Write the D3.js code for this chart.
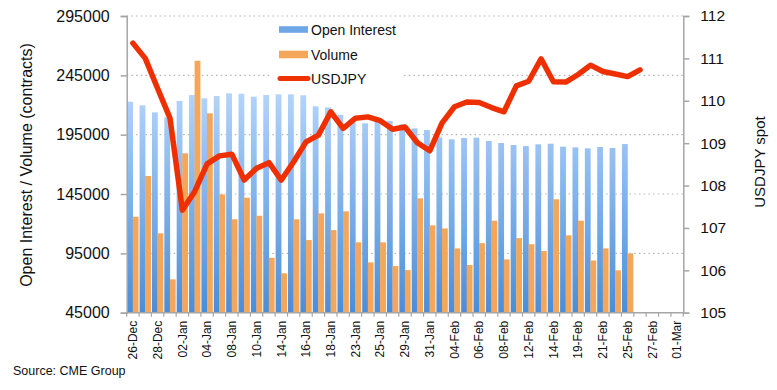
<!DOCTYPE html>
<html><head><meta charset="utf-8">
<script src="https://cdn.jsdelivr.net/npm/d3@7"></script>
<style>
body{margin:0;background:#fff;}
svg{display:block;font-family:"Liberation Sans",Arial,sans-serif;}
</style></head>
<body><svg id="c" width="777" height="390"></svg>
<script>
const categories = ["26-Dec","27-Dec","28-Dec","31-Dec","02-Jan","03-Jan","04-Jan","07-Jan","08-Jan","09-Jan","10-Jan","11-Jan","14-Jan","15-Jan","16-Jan","17-Jan","18-Jan","22-Jan","23-Jan","24-Jan","25-Jan","28-Jan","29-Jan","30-Jan","31-Jan","01-Feb","04-Feb","05-Feb","06-Feb","07-Feb","08-Feb","11-Feb","12-Feb","13-Feb","14-Feb","15-Feb","19-Feb","20-Feb","21-Feb","22-Feb","25-Feb","26-Feb","27-Feb","28-Feb","01-Mar"];
const openInterest = [222800,219700,213800,209600,223400,228400,225600,227600,229800,229500,227000,228400,229000,229000,228200,218900,218000,211800,207300,204600,206500,206500,203700,200300,198900,192700,191100,192200,192500,189700,188000,186300,185400,186900,187400,184900,184300,183500,184600,183800,187100];
const volume = [125900,160200,111900,73100,179300,257300,213000,144700,123700,141900,126700,91300,78200,123700,106200,128700,114600,130400,104300,87400,104300,84300,80900,141300,118600,116000,99200,85200,103600,122500,89900,107800,102700,96900,140600,110200,122500,89000,99200,80700,95000];
const usdjpy = [111.36,111.0,110.29,109.59,107.42,107.86,108.51,108.70,108.74,108.13,108.41,108.54,108.13,108.56,109.03,109.19,109.74,109.35,109.59,109.62,109.53,109.33,109.38,109.01,108.82,109.48,109.86,109.97,109.96,109.84,109.74,110.35,110.46,110.99,110.45,110.44,110.62,110.84,110.69,110.63,110.57,110.73];
const leftTicks = [45000,95000,145000,195000,245000,295000];
const rightTicks = [105,106,107,108,109,110,111,112];

const svg = d3.select("#c");
const L = 126.7, R = 683.3, T = 16, B = 312.7;
const x = d3.scaleBand().domain(categories).range([L, R]).padding(0);
const yL = d3.scaleLinear().domain([45000, 295000]).range([B, T]);
const yR = d3.scaleLinear().domain([105, 112]).range([B, T]);
const bw = x.bandwidth();

const defs = svg.append("defs");
const g1 = defs.append("linearGradient").attr("id","gBlue").attr("x1",0).attr("y1",0).attr("x2",0).attr("y2",1).attr("gradientUnits","userSpaceOnUse")
  .attr("x1",0).attr("x2",0).attr("y1",T+80).attr("y2",B);
g1.append("stop").attr("offset",0).attr("stop-color","#b2d3fa");
g1.append("stop").attr("offset",1).attr("stop-color","#4a8dd8");

// gridlines
svg.append("g").selectAll("line").data(leftTicks.filter(d=>d>45000)).join("line")
  .attr("x1",L).attr("x2",R).attr("y1",d=>yL(d)).attr("y2",d=>yL(d))
  .attr("stroke","#b5b5b5").attr("stroke-width",1.2).attr("stroke-dasharray","1.5,3.2");

// bars
const barData = openInterest.map((v,i)=>({c:categories[i],oi:v,vol:volume[i]}));
svg.append("g").selectAll("rect").data(barData).join("rect")
  .attr("x",d=>x(d.c)+0.5).attr("width",bw*0.47)
  .attr("y",d=>yL(d.oi)).attr("height",d=>B-yL(d.oi))
  .attr("fill","url(#gBlue)");
svg.append("g").selectAll("rect").data(barData).join("rect")
  .attr("x",d=>x(d.c)+bw*0.49).attr("width",bw*0.47)
  .attr("y",d=>yL(d.vol)).attr("height",d=>B-yL(d.vol))
  .attr("fill","#f4a65a");

// legend background
const lg = svg.append("g");
lg.append("rect").attr("x",272).attr("y",20).attr("width",132).attr("height",70).attr("fill","#fff");
const legItems = [{n:"Open Interest",t:"blue",y:29.5},{n:"Volume",t:"orange",y:54.5},{n:"USDJPY",t:"line",y:78.5}];
legItems.forEach(it=>{
  if(it.t==="blue") lg.append("rect").attr("x",279).attr("y",it.y-3.3).attr("width",29).attr("height",6.6).attr("fill","#6ea7e8");
  if(it.t==="orange") lg.append("rect").attr("x",279).attr("y",it.y-3.8).attr("width",29).attr("height",7.6).attr("fill","#f4a65a");
  if(it.t==="line") lg.append("line").attr("x1",280).attr("x2",308).attr("y1",it.y).attr("y2",it.y).attr("stroke","#ee3300").attr("stroke-width",5).attr("stroke-linecap","round");
  lg.append("text").attr("x",311).attr("y",it.y).attr("dy","0.36em").attr("font-size",14).attr("fill","#111").text(it.n);
});

// line
const line = d3.line().x((d,i)=>x(categories[i])+bw/2).y(d=>yR(d));
svg.append("path").datum(usdjpy).attr("d",line).attr("fill","none")
  .attr("stroke","#ee3000").attr("stroke-width",5.5).attr("stroke-linejoin","round").attr("stroke-linecap","round");

// axes
const axColor = "#a6a6a6";
const leftAxis = svg.append("g").attr("transform",`translate(${L},0)`)
  .call(d3.axisLeft(yL).tickValues(leftTicks).tickFormat(d3.format("d")).tickSize(6).tickPadding(11));
leftAxis.selectAll("text").attr("font-size",16).attr("fill","#111").attr("font-family","Liberation Sans, Arial, sans-serif");
leftAxis.selectAll("line,path").attr("stroke",axColor).attr("stroke-width",1.5);

const rightAxis = svg.append("g").attr("transform",`translate(${R},0)`)
  .call(d3.axisRight(yR).tickValues(rightTicks).tickFormat(d3.format("d")).tickSize(6).tickPadding(11));
rightAxis.selectAll("text").attr("font-size",15.5).attr("fill","#111").attr("font-family","Liberation Sans, Arial, sans-serif");
rightAxis.selectAll("line,path").attr("stroke",axColor).attr("stroke-width",1.5);

const bottom = svg.append("g").attr("transform",`translate(0,${B})`);
bottom.append("line").attr("x1",L).attr("x2",R).attr("stroke",axColor).attr("stroke-width",1.5);
const bounds = categories.map(c=>x(c)).concat([R]);
bottom.selectAll("line.t").data(bounds).join("line").attr("class","t")
  .attr("x1",d=>d).attr("x2",d=>d).attr("y1",0).attr("y2",4).attr("stroke",axColor).attr("stroke-width",1.2);
bottom.selectAll("text").data(categories.filter((c,i)=>i%2===0)).join("text")
  .attr("transform",d=>`translate(${x(d)+bw/2},8) rotate(-90)`)
  .attr("text-anchor","end").attr("dy","0.35em").attr("font-size",12).attr("fill","#111").text(d=>d);

// titles
svg.append("text").attr("transform","translate(26,165) rotate(-90)").attr("text-anchor","middle").attr("dy","0.35em")
  .attr("font-size",16).attr("fill","#111").text("Open Interest / Volume (contracts)");
svg.append("text").attr("transform","translate(760,162) rotate(-90)").attr("text-anchor","middle").attr("dy","0.35em")
  .attr("font-size",15).attr("fill","#111").text("USDJPY spot");
svg.append("text").attr("x",13).attr("y",371).attr("dy","0.35em").attr("font-size",12.5).attr("fill","#111").text("Source: CME Group");
</script></body></html>
